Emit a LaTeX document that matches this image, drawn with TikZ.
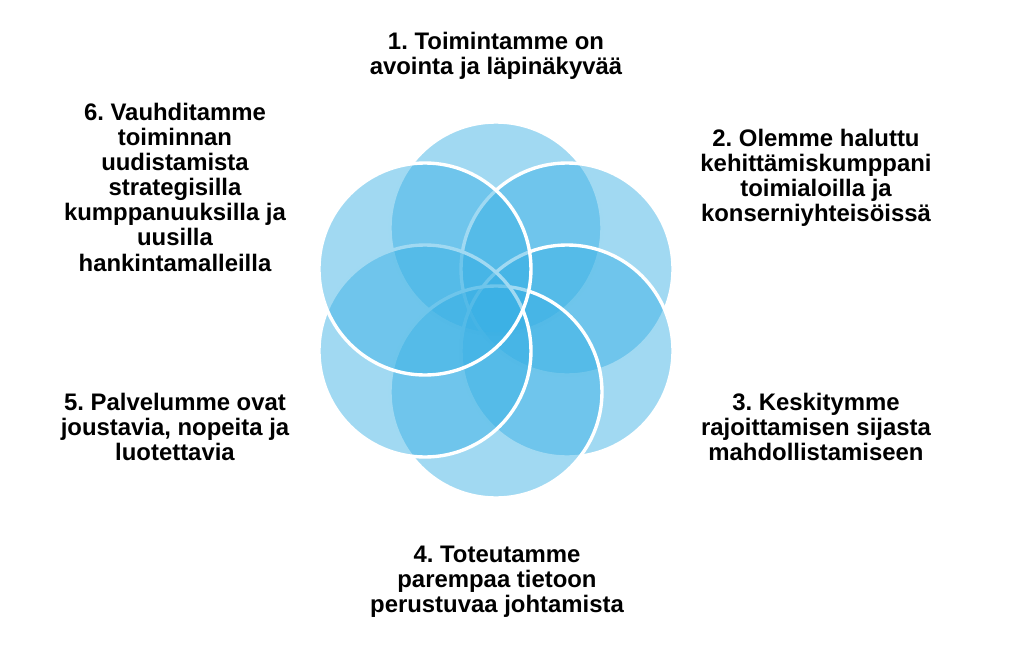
\documentclass[tikz,border=0pt]{standalone}
\usepackage{fontspec}
\setmainfont{Liberation Sans}
\usepackage{xcolor}
\definecolor{petalblue}{RGB}{55,175,228}
\frenchspacing

\begin{document}
\begin{tikzpicture}[
    petal/.style={fill=petalblue, fill opacity=0.47, draw=white, line width=2.4pt},
    goal/.style={align=center, font=\bfseries\fontsize{17}{17.9}\selectfont}
  ]

    \useasboundingbox (-12.4,-8.35) rectangle (13.2,7.75);

    % Petals, drawn clockwise from the top
    \filldraw[petal] (90:2.05) circle (2.65);
    \filldraw[petal] (30:2.05) circle (2.65);
    \filldraw[petal] (-30:2.05) circle (2.65);
    \filldraw[petal] (-90:2.05) circle (2.65);
    \filldraw[petal] (-150:2.05) circle (2.65);
    \filldraw[petal] (150:2.05) circle (2.65);

    % Text labels
    \node[goal] (g1) at (0,6.35) {1. Toimintamme on\\avointa ja läpinäkyvää};
    \node[goal] (g2) at (8.0,3.3) {2. Olemme haluttu\\kehittämiskumppani\\toimialoilla ja\\konserniyhteisöissä};
    \node[goal] (g3) at (8.0,-2.925) {3. Keskitymme\\rajoittamisen sijasta\\mahdollistamiseen};
    \node[goal] (g4) at (0.025,-6.8) {4. Toteutamme\\parempaa tietoon\\perustuvaa johtamista};
    \node[goal] (g5) at (-8.025,-2.925) {5. Palvelumme ovat\\joustavia, nopeita ja\\luotettavia};
    \node[goal] (g6) at (-8.025,3.075) {6. Vauhditamme\\toiminnan\\uudistamista\\strategisilla\\kumppanuuksilla ja\\uusilla\\hankintamalleilla};

\end{tikzpicture}
\end{document}
